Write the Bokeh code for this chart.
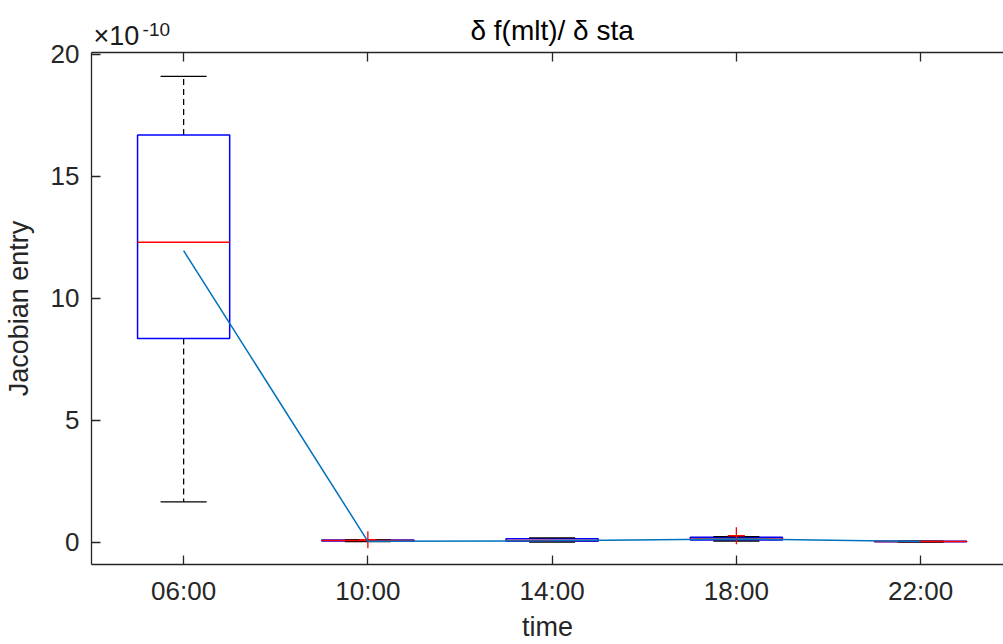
import numpy as np
from bokeh.plotting import figure
from bokeh.models import Range1d, FixedTicker, LinearAxis
from bokeh.embed import file_html
from bokeh.resources import INLINE

# Jacobian entry statistics per time slot (values in units of 1e-10)
times = ["06:00", "10:00", "14:00", "18:00", "22:00"]
whisker_lo = [1.65, 0.02, 0.00, 0.04, 0.00]
q1 = [8.35, 0.04, 0.03, 0.08, 0.01]
median = [12.3, 0.06, 0.06, 0.13, 0.02]
q3 = [16.7, 0.08, 0.14, 0.20, 0.03]
whisker_hi = [19.1, 0.09, 0.17, 0.22, 0.04]
outlier_slot = [2, 4]
outlier_val = [0.10, 0.26]
mean_val = [11.95, 0.03, 0.05, 0.13, 0.02]
y_ticks = [0, 5, 10, 15, 20]
title_text = "δ f(mlt)/ δ sta"
exponent_base = "×10"
exponent_power = "-10"

FONT = "Liberation Sans"
AX = "#262626"
pos = np.arange(1, len(times) + 1)
half_box = 0.25
half_cap = 0.125

p = figure(width=1003, height=644, output_backend="svg", toolbar_location=None,
           x_range=Range1d(0.5, 5.45), y_range=Range1d(-0.92, 20.08),
           min_border_left=89, min_border_right=0, min_border_top=52,
           min_border_bottom=80, outline_line_color=None, background_fill_color="white")
p.grid.visible = False
p.title.visible = False

def style_axis(ax, labels=True):
    ax.major_tick_in = 9
    ax.major_tick_out = 0
    ax.minor_tick_line_color = None
    ax.axis_line_color = AX
    ax.axis_line_width = 1.3
    ax.major_tick_line_color = AX
    ax.major_tick_line_width = 1.3
    ax.major_label_text_font = FONT
    ax.major_label_text_font_size = "26px"
    ax.major_label_text_color = AX if labels else None
    ax.axis_label_text_font = FONT
    ax.axis_label_text_font_size = "27px"
    ax.axis_label_text_font_style = "normal"
    ax.axis_label_text_color = AX

def text_row(ticks, overrides, size, standoff, color):
    # an axis with no line and no ticks, used only to place header text
    ax = LinearAxis(ticker=FixedTicker(ticks=ticks), major_label_overrides=overrides)
    style_axis(ax)
    ax.axis_line_color = None
    ax.major_tick_line_color = None
    ax.major_tick_in = 0
    ax.major_label_text_font_size = size
    ax.major_label_standoff = standoff
    ax.major_label_text_color = color
    return ax

p.xaxis.ticker = FixedTicker(ticks=list(pos))
p.xaxis.major_label_overrides = {int(k): t for k, t in zip(pos, times)}
p.xaxis.axis_label = "time"
p.xaxis.major_label_standoff = 11
p.xaxis.axis_label_standoff = 3
style_axis(p.xaxis[0])

p.yaxis.ticker = FixedTicker(ticks=y_ticks)
p.yaxis.axis_label = "Jacobian entry"
p.yaxis.major_label_standoff = 12
p.yaxis.axis_label_standoff = 14
style_axis(p.yaxis[0])

# top border with inward ticks, no labels
top_ax = LinearAxis(ticker=FixedTicker(ticks=list(pos)))
style_axis(top_ax, labels=False)
top_ax.major_label_text_font_size = "1px"
top_ax.major_label_standoff = 0
p.add_layout(top_ax, "above")

# header: exponent base, raised power of ten, and the title centred over the axes
p.add_layout(text_row([0.635], {0.635: exponent_base}, "27px", 2, "#1a1a1a"), "above")
p.add_layout(text_row([0.852], {0.852: exponent_power}, "19px", -18, "#1a1a1a"), "above")
p.add_layout(text_row([3], {3: title_text}, "28px", -28, "black"), "above")

# whiskers
p.segment(x0=pos, y0=q3, x1=pos, y1=whisker_hi, line_color="black", line_width=1.3, line_dash="6 4")
p.segment(x0=pos, y0=q1, x1=pos, y1=whisker_lo, line_color="black", line_width=1.3, line_dash="6 4")
# boxes
p.quad(left=pos - half_box, right=pos + half_box, bottom=q1, top=q3,
       fill_color=None, line_color="#0000FF", line_width=1.5)
# whisker caps
p.segment(x0=pos - half_cap, y0=whisker_hi, x1=pos + half_cap, y1=whisker_hi, line_color="black", line_width=1.3)
p.segment(x0=pos - half_cap, y0=whisker_lo, x1=pos + half_cap, y1=whisker_lo, line_color="black", line_width=1.3)
# medians
p.segment(x0=pos - half_box, y0=median, x1=pos + half_box, y1=median, line_color="#FF0000", line_width=1.5)
# outliers
p.scatter(x=outlier_slot, y=outlier_val, marker="cross", size=17, line_color="#FF0000", line_width=1.3)
# mean line
p.line(x=pos, y=mean_val, line_color="#0072BD", line_width=1.5)

open("out.html", "w").write(file_html(p, INLINE))
